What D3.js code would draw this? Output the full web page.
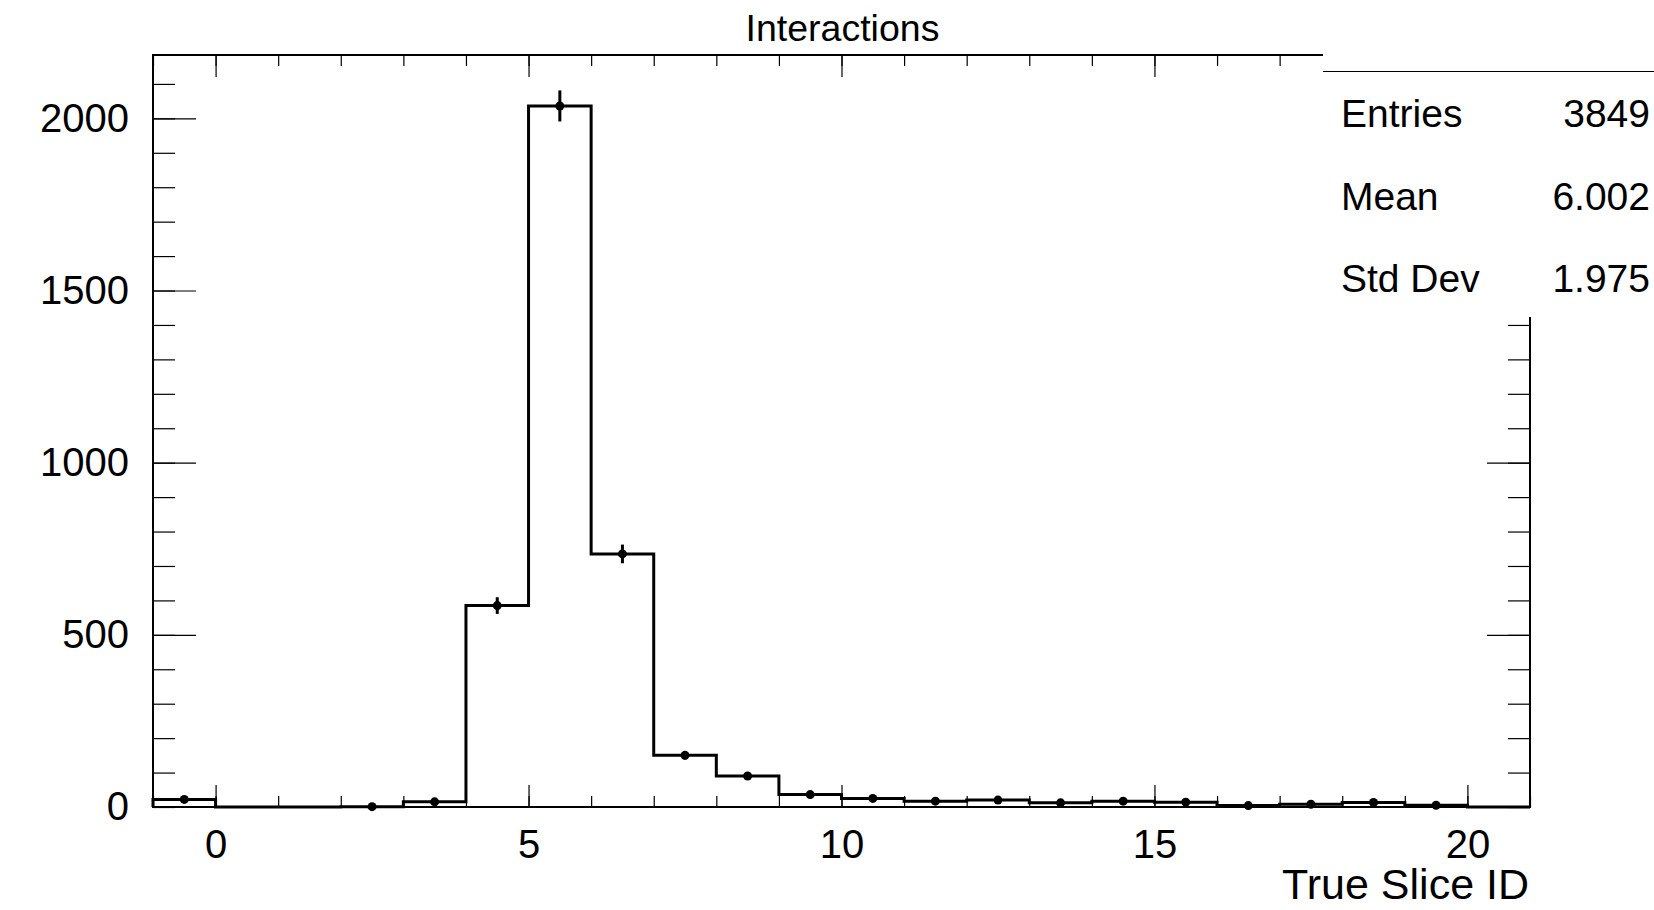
<!DOCTYPE html>
<html>
<head>
<meta charset="utf-8">
<script src="https://cdn.jsdelivr.net/npm/d3@7"></script>
<style>
  body { margin: 0; background: #fff; }
  svg { display: block; font-family: "Liberation Sans", Arial, Helvetica, sans-serif; }
</style>
</head>
<body>
<svg width="1654" height="910"></svg>
<script>
// histogram bins (lower edge) and counts
var binLow = [-1, 0, 1, 2, 3, 4, 5, 6, 7, 8, 9, 10, 11, 12, 13, 14, 15, 16, 17, 18, 19, 20];
var counts = [22, 0, 0, 1, 15, 585, 2036, 735, 150, 90, 36, 25, 17, 20, 12, 17, 14, 4, 8, 13, 5, 0];
var xTickLabels = [0, 5, 10, 15, 20];
var yTickLabels = [0, 500, 1000, 1500, 2000];
var statNames = ["Entries", "Mean", "Std Dev"];
var statValues = ["3849", "6.002", "1.975"];

var binWidth = 1;
// frame edges (note: "top" is reserved on window, so use other names)
var fLeft = 153, fRight = 1530, fTop = 55, fBottom = 807;

var svg = d3.select("svg");

var x = d3.scaleLinear().domain([-1, 21]).range([fLeft, fRight]);
var y = d3.scaleLinear().domain([0, 2184]).range([fBottom, fTop]);

// title
svg.append("text")
  .attr("x", 842.5).attr("y", 41)
  .attr("text-anchor", "middle")
  .attr("font-size", 37.5)
  .text("Interactions");

// frame
svg.append("rect")
  .attr("x", fLeft).attr("y", fTop)
  .attr("width", fRight - fLeft).attr("height", fBottom - fTop)
  .attr("fill", "none").attr("stroke", "black").attr("stroke-width", 2);

function cleanAxis(g) {
  g.select(".domain").remove();
  g.selectAll(".tick line").attr("stroke", "black").attr("stroke-width", 1.2);
  g.selectAll("text").attr("fill", "black");
}

var minorX = d3.range(-1, 22, 1);
var minorY = d3.range(0, 2101, 100);

// bottom axis
svg.append("g").attr("transform", "translate(0," + fBottom + ")")
  .call(d3.axisBottom(x).tickValues(minorX).tickSize(-11).tickFormat(""))
  .call(cleanAxis);
svg.append("g").attr("transform", "translate(0," + fBottom + ")")
  .call(d3.axisBottom(x).tickValues(xTickLabels).tickSize(-22).tickPadding(23).tickFormat(d3.format("d")))
  .call(function (g) { g.selectAll("text").attr("font-size", 40).attr("font-family", null); })
  .call(cleanAxis);

// top axis
svg.append("g").attr("transform", "translate(0," + fTop + ")")
  .call(d3.axisTop(x).tickValues(minorX).tickSize(-11).tickFormat(""))
  .call(cleanAxis);
svg.append("g").attr("transform", "translate(0," + fTop + ")")
  .call(d3.axisTop(x).tickValues(xTickLabels).tickSize(-22).tickFormat(""))
  .call(cleanAxis);

// left axis
svg.append("g").attr("transform", "translate(" + fLeft + ",0)")
  .call(d3.axisLeft(y).tickValues(minorY).tickSize(-22).tickFormat(""))
  .call(cleanAxis);
svg.append("g").attr("transform", "translate(" + fLeft + ",0)")
  .call(d3.axisLeft(y).tickValues(yTickLabels).tickSize(-43).tickPadding(24).tickFormat(d3.format("d")))
  .call(function (g) { g.selectAll("text").attr("font-size", 40).attr("font-family", null); })
  .call(cleanAxis);

// right axis
svg.append("g").attr("transform", "translate(" + fRight + ",0)")
  .call(d3.axisRight(y).tickValues(minorY).tickSize(-22).tickFormat(""))
  .call(cleanAxis);
svg.append("g").attr("transform", "translate(" + fRight + ",0)")
  .call(d3.axisRight(y).tickValues(yTickLabels).tickSize(-43).tickFormat(""))
  .call(cleanAxis);

// x axis title
svg.append("text")
  .attr("x", 1529).attr("y", 899)
  .attr("text-anchor", "end")
  .attr("font-size", 43)
  .text("True Slice ID");

// histogram outline
var pts = [[binLow[0], 0]];
binLow.forEach(function (b, i) {
  pts.push([b, counts[i]]);
  pts.push([b + binWidth, counts[i]]);
});
pts.push([binLow[binLow.length - 1] + binWidth, 0]);

svg.append("path")
  .attr("d", d3.line().x(function (d) { return x(d[0]); }).y(function (d) { return y(d[1]); })(pts))
  .attr("fill", "none").attr("stroke", "black").attr("stroke-width", 3)
  .attr("stroke-linejoin", "miter");

// error bars and markers
var filled = binLow.map(function (b, i) { return { c: b + binWidth / 2, v: counts[i] }; })
  .filter(function (d) { return d.v > 0; });

svg.selectAll(".err").data(filled).enter().append("line")
  .attr("x1", function (d) { return x(d.c); })
  .attr("x2", function (d) { return x(d.c); })
  .attr("y1", function (d) { return y(d.v + Math.sqrt(d.v)); })
  .attr("y2", function (d) { return y(d.v - Math.sqrt(d.v)); })
  .attr("stroke", "black").attr("stroke-width", 3);

svg.selectAll(".dot").data(filled).enter().append("circle")
  .attr("cx", function (d) { return x(d.c); })
  .attr("cy", function (d) { return y(d.v); })
  .attr("r", 4.5)
  .attr("fill", "black");

// stats box
svg.append("rect")
  .attr("x", 1323).attr("y", 40)
  .attr("width", 1654 - 1323).attr("height", 317 - 40)
  .attr("fill", "white");
svg.append("line")
  .attr("x1", 1323).attr("x2", 1654)
  .attr("y1", 71.5).attr("y2", 71.5)
  .attr("stroke", "black").attr("stroke-width", 1.2);

var statY = [127, 210, 292];
statNames.forEach(function (n, i) {
  svg.append("text")
    .attr("x", 1341).attr("y", statY[i])
    .attr("font-size", 39)
    .text(n);
  svg.append("text")
    .attr("x", 1650).attr("y", statY[i])
    .attr("text-anchor", "end")
    .attr("font-size", 39)
    .text(statValues[i]);
});
</script>
</body>
</html>
